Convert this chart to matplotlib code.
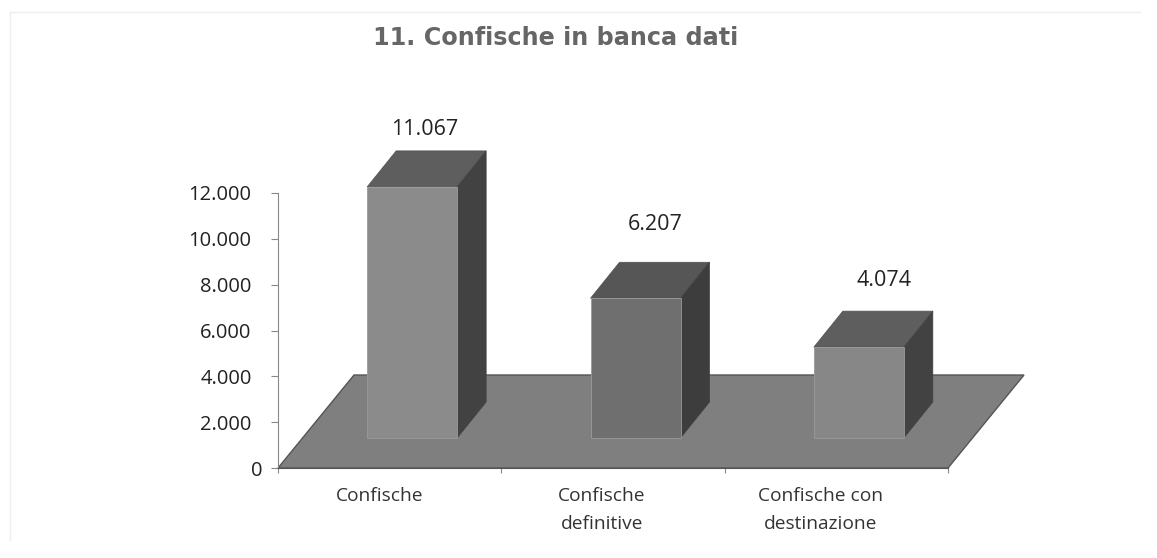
import matplotlib
matplotlib.use('Agg')
import matplotlib.pyplot as plt
from matplotlib.lines import Line2D
from matplotlib.transforms import ScaledTranslation

# dati
categories = ['Confische', 'Confische\ndefinitive', 'Confische con\ndestinazione']
values = [11067, 6207, 4074]
value_labels = ['11.067', '6.207', '4.074']
y_ticks = [0, 2000, 4000, 6000, 8000, 10000, 12000]
y_labels = ['0', '2.000', '4.000', '6.000', '8.000', '10.000', '12.000']

W, H = 1157, 558
plt.rcParams['font.family'] = ['Open Sans', 'DejaVu Sans']

fig = plt.figure(figsize=(W / 100, H / 100), dpi=100, facecolor='white')
# area del grafico in pixel: x 278-948, y 193-468
ax = fig.add_axes([278 / W, 1 - 468 / H, 670 / W, 275 / H])
ax.set_xlim(-0.5, 2.5)
ax.set_ylim(0, 12000)
ax.patch.set_visible(False)

# conversione pixel -> unita' dati per l'effetto 3D
px_x = 3 / 670
px_y = 12000 / 275
floor_dx = 76 * px_x
floor_dy = 93 * px_y
depth_x = 29 * px_x
depth_y = 36 * px_y
base = 30 * px_y
top_base = 27.5 * px_y
shift = 22.5 * px_x
bar_w = 90 * px_x

# pavimento
ax.fill([-0.5, 2.5, 2.5 + floor_dx, -0.5 + floor_dx], [0, 0, floor_dy, floor_dy],
        facecolor='#7f7f7f', edgecolor='#555555', lw=1.0, clip_on=False, zorder=1)

fronts = ['#8b8b8b', '#6f6f6f', '#878787']
tops = ['#5e5e5e', '#565656', '#5e5e5e']
sides = ['#424242', '#3d3d3d', '#424242']
# spostamento etichette in pixel, a mano
label_off = [(-2, 21), (5, 38), (11, 31)]
for i, v in enumerate(values):
    x0 = i + shift - bar_w / 2
    x1 = x0 + bar_w
    y1 = top_base + v
    ax.bar(x0, y1 - base, width=bar_w, bottom=base, align='edge', color=fronts[i],
           edgecolor='#9a9a9a', lw=0.6, clip_on=False, zorder=3)
    ax.fill([x0, x1, x1 + depth_x, x0 + depth_x], [y1, y1, y1 + depth_y, y1 + depth_y],
            facecolor=tops[i], edgecolor='#505050', lw=0.5, clip_on=False, zorder=2)
    ax.fill([x1, x1 + depth_x, x1 + depth_x, x1],
            [base, base + depth_y, y1 + depth_y, y1],
            facecolor=sides[i], edgecolor=sides[i], lw=0.5, clip_on=False, zorder=2)
    ax.annotate(value_labels[i], (x0 + bar_w / 2 + depth_x / 2, y1 + depth_y),
                xytext=(label_off[i][0] * 0.72, label_off[i][1] * 0.72),
                textcoords='offset points', ha='center', va='center',
                fontsize=15.5, color='#222222', annotation_clip=False)

ax.set_yticks(y_ticks, y_labels, fontsize=14.5, color='#222222')
ax.set_xticks([-0.5, 0.5, 1.5, 2.5], [])
ax.tick_params(axis='y', length=5, width=0.8, color='#888888', pad=14)
ax.tick_params(axis='x', length=3.5, width=0.8, color='#888888')
# lo zero sta piu' vicino all'asse
lab0 = ax.get_yticklabels()[0]
lab0.set_transform(lab0.get_transform() + ScaledTranslation(11 / 100, 0, fig.dpi_scale_trans))
for s in ['top', 'right']:
    ax.spines[s].set_visible(False)
ax.spines['left'].set_color('#888888')
ax.spines['bottom'].set_color('#555555')

cat_off = [-10, -11, -16]
for i, c in enumerate(categories):
    ax.annotate(c, (i, 0), xytext=(cat_off[i] * 0.72, -14), textcoords='offset points',
                ha='center', va='top', fontsize=13.8, color='#333333', linespacing=1.7,
                annotation_clip=False)

fig.text(555.5 / W, 1 - 38 / H, '11. Confische in banca dati', family='DejaVu Sans', weight='bold',
         fontsize=17.2, color='#666666', ha='center', va='center')

# bordo tenue della scansione
fig.add_artist(Line2D([10 / W, 10 / W], [1 - 12 / H, 1 - 540 / H], color='#eeeeee', lw=1))
fig.add_artist(Line2D([10 / W, 1140 / W], [1 - 12 / H, 1 - 12 / H], color='#eeeeee', lw=1))

fig.savefig('out.png', dpi=100)
